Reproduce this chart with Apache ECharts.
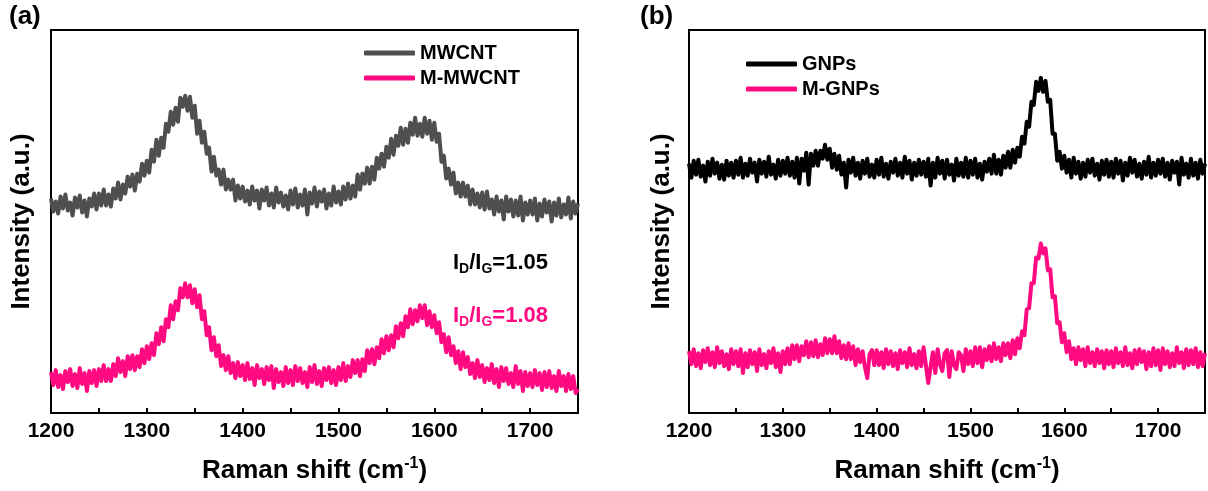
<!DOCTYPE html>
<html>
<head>
<meta charset="utf-8">
<script src="https://cdn.jsdelivr.net/npm/echarts@6/dist/echarts.min.js"></script>
<style>
  html, body { margin: 0; padding: 0; background: #fff; overflow: hidden; }
  #chart { width: 1208px; height: 491px; }
</style>
</head>
<body>
<div id="chart"></div>
<script>
// Raman shift grid (cm-1) shared by all four spectra
const ramanShift = [
  1200,1202.5,1205,1207.5,1210,1212.5,1215,1217.5,1220,1222.5,1225,1227.5,1230,1232.5,1235,1237.5,1240,1242.5,1245,1247.5,
  1250,1252.5,1255,1257.5,1260,1262.5,1265,1267.5,1270,1272.5,1275,1277.5,1280,1282.5,1285,1287.5,1290,1292.5,1295,1297.5,
  1300,1302.5,1305,1307.5,1310,1312.5,1315,1317.5,1320,1322.5,1325,1327.5,1330,1332.5,1335,1337.5,1340,1342.5,1345,1347.5,
  1350,1352.5,1355,1357.5,1360,1362.5,1365,1367.5,1370,1372.5,1375,1377.5,1380,1382.5,1385,1387.5,1390,1392.5,1395,1397.5,
  1400,1402.5,1405,1407.5,1410,1412.5,1415,1417.5,1420,1422.5,1425,1427.5,1430,1432.5,1435,1437.5,1440,1442.5,1445,1447.5,
  1450,1452.5,1455,1457.5,1460,1462.5,1465,1467.5,1470,1472.5,1475,1477.5,1480,1482.5,1485,1487.5,1490,1492.5,1495,1497.5,
  1500,1502.5,1505,1507.5,1510,1512.5,1515,1517.5,1520,1522.5,1525,1527.5,1530,1532.5,1535,1537.5,1540,1542.5,1545,1547.5,
  1550,1552.5,1555,1557.5,1560,1562.5,1565,1567.5,1570,1572.5,1575,1577.5,1580,1582.5,1585,1587.5,1590,1592.5,1595,1597.5,
  1600,1602.5,1605,1607.5,1610,1612.5,1615,1617.5,1620,1622.5,1625,1627.5,1630,1632.5,1635,1637.5,1640,1642.5,1645,1647.5,
  1650,1652.5,1655,1657.5,1660,1662.5,1665,1667.5,1670,1672.5,1675,1677.5,1680,1682.5,1685,1687.5,1690,1692.5,1695,1697.5,
  1700,1702.5,1705,1707.5,1710,1712.5,1715,1717.5,1720,1722.5,1725,1727.5,1730,1732.5,1735,1737.5,1740,1742.5,1745,1747.5,
  1750
];

// Panel (a): nanotube spectra, stacked with an offset (a.u.)
const mwcnt = [
  215,202,212,200,217,205,219,203,211,198,216,206,218,201,213,197,215,207,220,204,
  220,208,224,208,219,207,225,215,231,214,229,220,237,227,239,223,240,232,250,238,
  253,241,264,252,274,258,276,266,290,282,302,289,306,292,316,307,318,303,317,296,
  308,280,293,271,282,260,266,242,257,238,244,229,244,224,234,224,234,213,228,215,
  227,212,223,209,227,213,223,205,224,213,226,208,220,206,226,211,221,207,218,204,
  223,209,225,206,219,208,224,199,221,210,226,207,222,212,224,205,220,208,227,211,
  222,209,227,214,230,215,228,217,239,224,240,230,246,230,247,234,256,245,260,247,
  267,256,275,259,278,268,286,269,285,271,291,279,296,278,290,277,296,280,293,274,
  291,272,280,252,258,235,245,229,241,220,231,217,231,217,228,209,224,209,220,206,
  221,204,222,205,214,199,217,202,213,194,217,202,214,197,213,198,217,193,211,199,
  213,199,215,193,210,197,214,201,212,192,211,198,215,196,209,199,216,195,212,200,
  210
];
const mMwcnt = [
  41,28,43,26,38,24,42,31,44,27,39,25,45,29,40,22,42,30,43,27,
  44,32,48,32,44,32,49,37,55,41,52,37,57,44,58,43,57,46,64,50,
  67,54,70,58,80,69,86,72,94,86,108,94,112,103,125,116,130,116,128,110,
  124,106,118,94,102,78,86,63,76,57,68,47,58,43,57,40,50,35,51,37,
  48,33,50,34,45,28,48,35,44,29,46,33,47,25,44,31,41,27,46,30,
  43,28,47,32,45,30,41,26,46,31,48,29,42,27,45,33,46,30,43,28,
  46,33,50,32,47,36,53,40,53,37,54,42,63,50,64,49,66,55,74,60,
  77,63,78,66,87,75,90,77,97,86,104,89,103,92,108,95,108,88,102,86,
  98,80,91,71,79,61,76,58,67,50,62,44,61,46,56,39,50,35,53,36,
  48,31,45,33,49,30,44,26,46,32,45,29,40,26,47,29,42,22,41,27,
  40,26,43,28,40,23,41,26,42,25,37,22,42,27,37,22,39,24,37,20,
  24
];

// Panel (b): graphene nanoplatelet spectra (a.u.)
const gnps = [
  250,236,253,239,254,237,248,232,252,238,255,240,251,235,249,234,253,238,251,236,
  253,239,256,236,250,238,255,241,251,232,254,240,252,237,257,239,249,235,254,238,
  253,240,256,238,252,236,256,230,255,243,261,229,260,248,263,248,263,255,269,254,
  265,246,260,244,258,239,251,226,254,241,256,238,251,235,253,240,255,237,249,236,
  254,239,256,237,250,235,252,241,255,238,251,236,257,240,253,234,251,238,254,239,
  252,237,255,228,251,236,256,240,253,235,254,239,249,233,255,238,251,237,256,236,
  253,239,255,236,250,234,252,242,255,240,259,240,254,239,258,246,262,246,264,251,
  266,257,277,270,292,287,312,309,332,323,336,322,333,312,314,280,280,253,262,245,
  258,241,254,236,256,240,252,235,251,237,254,241,255,238,250,234,253,239,254,237,
  252,236,255,240,253,233,251,238,256,241,254,237,250,235,252,239,257,236,251,238,
  254,240,255,237,251,234,253,241,252,229,256,239,250,236,255,238,251,235,254,240,
  250
];
const mGnps = [
  62,49,64,47,60,45,63,51,65,48,61,46,66,50,62,47,59,44,64,49,
  62,47,64,40,60,46,63,49,61,42,64,48,59,45,62,50,65,46,60,41,
  62,49,65,49,68,54,68,52,67,58,72,56,71,57,73,56,69,58,75,60,
  74,60,77,60,72,55,68,54,70,54,67,48,64,51,62,46,35,59,63,48,
  63,48,61,45,64,49,62,47,60,44,63,50,61,46,65,48,59,45,62,47,
  66,48,30,46,61,40,64,49,42,60,63,36,62,48,44,61,58,42,64,49,
  62,47,66,50,66,46,64,53,67,52,70,54,66,52,70,58,70,55,73,59,
  75,65,82,78,104,105,130,130,156,155,170,160,165,143,144,116,117,90,91,71,
  80,61,72,54,65,49,66,53,64,47,66,50,61,47,64,50,62,45,63,49,
  62,46,65,50,61,47,66,48,60,45,63,49,64,51,62,44,61,47,65,48,
  63,43,65,49,62,46,60,47,66,50,61,45,64,48,63,49,65,46,61,47,
  60
];

const seriesNames = ['MWCNT', 'M-MWCNT', 'GNPs', 'M-GNPs'];
const ratioLabels = ['1.05', '1.08'];
const panelTags = ['(a)', '(b)'];

const FONT = '"Liberation Sans", Arial, Helvetica, sans-serif';
const GRAY = '#4f4f4f';
const PINK = '#ff0a80';
const BLACK = '#000000';

function pairs(xs, ys) { return xs.map((x, i) => [x, ys[i]]); }

function xAxisFor(gridIndex) {
  return {
    type: 'value', gridIndex: gridIndex,
    min: 1200, max: 1750, interval: 50,
    axisLine: { show: true, onZero: false, lineStyle: { color: BLACK, width: 2 } },
    axisTick: { show: true, inside: true, length: 5, lineStyle: { color: BLACK, width: 2 } },
    axisLabel: {
      margin: 8, fontSize: 21, fontWeight: 'bold', color: BLACK, fontFamily: FONT,
      formatter: v => (v % 100 === 0 && v < 1750) ? String(v) : ''
    },
    splitLine: { show: false },
    name: 'Raman shift (cm{sup|-1})',
    nameLocation: 'middle', nameGap: 43,
    nameTextStyle: {
      fontSize: 26, fontWeight: 'bold', color: BLACK, fontFamily: FONT, lineHeight: 30,
      rich: { sup: { fontSize: 16, fontWeight: 'bold', color: BLACK, fontFamily: FONT,
                     lineHeight: 16, verticalAlign: 'top' } }
    }
  };
}

function yAxisFor(gridIndex, gap) {
  return {
    type: 'value', gridIndex: gridIndex, min: 0, max: 384,
    axisLine: { show: false }, axisTick: { show: false },
    axisLabel: { show: false }, splitLine: { show: false },
    name: 'Intensity (a.u.)', nameLocation: 'middle', nameGap: gap, nameRotate: 90,
    nameTextStyle: { fontSize: 26, fontWeight: 'bold', color: BLACK, fontFamily: FONT }
  };
}

function lineSeries(name, xi, ys, color) {
  return {
    name: name, type: 'line', xAxisIndex: xi, yAxisIndex: xi,
    data: pairs(ramanShift, ys), showSymbol: false, symbol: 'none',
    lineStyle: { color: color, width: 4, join: 'round' },
    itemStyle: { color: color }, animation: false, z: 3
  };
}

function ratioText(x, y, value, color) {
  return {
    type: 'text', left: x, top: y, z: 10,
    style: {
      text: 'I{s|D}/I{s|G}=' + value,
      fontSize: 22, fontWeight: 'bold', fill: color, fontFamily: FONT, lineHeight: 26,
      rich: { s: { fontSize: 14, fontWeight: 'bold', fill: color, fontFamily: FONT,
                   lineHeight: 14, verticalAlign: 'bottom' } }
    }
  };
}

const chart = echarts.init(document.getElementById('chart'), null, { renderer: 'canvas' });

chart.setOption({
  animation: false,
  backgroundColor: '#ffffff',
  grid: [
    { left: 51, right: 630, top: 30, bottom: 77, show: true, borderColor: BLACK, borderWidth: 2, backgroundColor: 'transparent' },
    { left: 689, right: -4, top: 30, bottom: 77, show: true, borderColor: BLACK, borderWidth: 2, backgroundColor: 'transparent' }
  ],
  xAxis: [xAxisFor(0), xAxisFor(1)],
  yAxis: [yAxisFor(0, 16), yAxisFor(1, 14)],
  legend: [
    {
      orient: 'vertical', left: 359, top: 38, itemGap: 5,
      itemWidth: 51, itemHeight: 5, icon: 'roundRect',
      textStyle: { fontSize: 20, fontWeight: 'bold', color: BLACK, fontFamily: FONT },
      data: [seriesNames[0], seriesNames[1]]
    },
    {
      orient: 'vertical', left: 741, top: 49, itemGap: 5,
      itemWidth: 51, itemHeight: 5, icon: 'roundRect',
      textStyle: { fontSize: 20, fontWeight: 'bold', color: BLACK, fontFamily: FONT },
      data: [seriesNames[2], seriesNames[3]]
    }
  ],
  series: [
    lineSeries(seriesNames[0], 0, mwcnt, GRAY),
    lineSeries(seriesNames[1], 0, mMwcnt, PINK),
    lineSeries(seriesNames[2], 1, gnps, BLACK),
    lineSeries(seriesNames[3], 1, mGnps, PINK)
  ],
  graphic: [
    { type: 'text', left: 9, top: 4, z: 10,
      style: { text: panelTags[0], fontSize: 26, fontWeight: 'bold', fill: BLACK, fontFamily: FONT } },
    { type: 'text', left: 640, top: 4, z: 10,
      style: { text: panelTags[1], fontSize: 26, fontWeight: 'bold', fill: BLACK, fontFamily: FONT } },
    ratioText(453, 250, ratioLabels[0], BLACK),
    ratioText(453, 303, ratioLabels[1], PINK)
  ]
});
</script>
</body>
</html>
